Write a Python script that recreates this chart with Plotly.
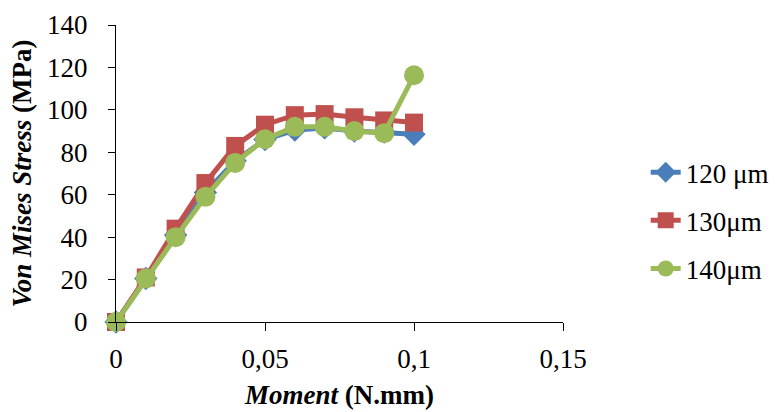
import plotly.graph_objects as go

moment = [0, 0.01, 0.02, 0.03, 0.04, 0.05, 0.06, 0.07, 0.08, 0.09, 0.1]
s120 = [0, 20.5, 41, 61, 76, 86, 90.5, 91.5, 90, 89.5, 88.5]
s130 = [0, 21, 44, 65.5, 83, 93, 97.5, 98, 96.5, 95, 94]
s140 = [0, 20.5, 40, 59, 75, 86.2, 92, 92, 90, 89, 116.3]
names = ["120 μm", "130μm", "140μm"]
colors = ["#4A7EBB", "#C0504D", "#9BBB59"]
symbols = ["diamond", "square", "circle"]
sizes = [18, 18, 20]
xtick_vals = [0, 0.05, 0.1, 0.15]
xtick_text = ["0", "0,05", "0,1", "0,15"]
ytick_vals = [0, 20, 40, 60, 80, 100, 120, 140]

FONT = '"Liberation Serif", "Times New Roman", serif'

fig = go.Figure()
for i, ys in enumerate([s120, s130, s140]):
    fig.add_trace(go.Scatter(
        x=moment, y=ys, name=names[i], mode="lines+markers",
        legendgroup=f"g{i}",
        line=dict(color=colors[i], width=5),
        marker=dict(symbol=symbols[i], size=sizes[i], color=colors[i]),
        cliponaxis=False,
    ))

fig.update_layout(
    width=779, height=412,
    margin=dict(l=116, r=216, t=25, b=90, autoexpand=False),
    paper_bgcolor="white", plot_bgcolor="white",
    font=dict(family=FONT, size=27, color="black"),
    showlegend=True,
    legend=dict(x=1.185, y=0.341, xanchor="left", yanchor="middle",
                tracegroupgap=10, font=dict(size=27, family=FONT),
                bgcolor="rgba(0,0,0,0)"),
    xaxis=dict(range=[0, 0.15], tickvals=xtick_vals, ticktext=xtick_text,
               showgrid=False, zeroline=False, showline=True, linecolor="black",
               linewidth=1.3, ticks="outside", ticklen=8, tickcolor="black",
               tickfont=dict(size=27, family=FONT), ticklabelstandoff=4,
               title=dict(text="<b><i>Moment</i> (N.mm)</b>", font=dict(size=27, family=FONT), standoff=12)),
    yaxis=dict(range=[0, 140], tickvals=ytick_vals,
               showgrid=False, zeroline=False, showline=True, linecolor="black",
               linewidth=1.3, ticks="outside", ticklen=7, tickcolor="black",
               tickfont=dict(size=27, family=FONT), ticklabelstandoff=15,
               title=dict(text="<b><i>Von Mises Stress</i> (MPa)</b>", font=dict(size=27, family=FONT), standoff=7)),
)

fig.write_html("out.html")
